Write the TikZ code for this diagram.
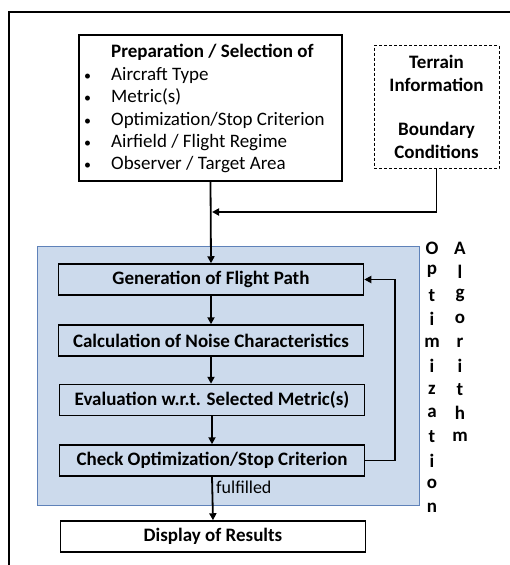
\documentclass[tikz,border=0pt]{standalone}
\usepackage{fontspec}
\setmainfont{Carlito}
\usetikzlibrary{arrows.meta}
\definecolor{bluefill}{RGB}{204,218,236}
\definecolor{blueedge}{RGB}{95,130,185}
\begin{document}
\begin{tikzpicture}[x=1pt,y=-1pt,
  box/.style={draw, line width=1.5pt, minimum width=305pt, minimum height=31pt, inner sep=0pt,
    font=\fontsize{19}{22}\selectfont\bfseries},
  flow/.style={line width=1.8pt, -{Triangle[length=7pt,width=7pt]}},
  letter/.style={inner sep=0pt, font=\fontsize{19}{22}\selectfont\bfseries, anchor=center}]
\useasboundingbox (0,0) rectangle (509,565);
% outer frame
\draw[line width=2pt] (9,566) -- (9,12) -- (510,12);
% blue region
\node[draw=blueedge, fill=bluefill, line width=1pt, minimum width=382pt, minimum height=259pt, inner sep=0pt] (region) at (228,375.5) {};
% prep box
\node[draw, line width=1.5pt, minimum width=263pt, minimum height=146pt, inner sep=0pt] (prep) at (210.5,108) {};
\node[anchor=north west, inner sep=0pt, font=\fontsize{19}{22.4}\selectfont, align=left] (preptxt) at (84,42)
 {\begin{tabular}{@{}p{27pt}@{}l@{}}
 & \textbf{Preparation / Selection of}\\
 {\fontsize{14}{22.4}\selectfont\textbullet} & Aircraft Type\\
 {\fontsize{14}{22.4}\selectfont\textbullet} & Metric(s)\\
 {\fontsize{14}{22.4}\selectfont\textbullet} & Optimization/Stop Criterion\\
 {\fontsize{14}{22.4}\selectfont\textbullet} & Airfield / Flight Regime\\
 {\fontsize{14}{22.4}\selectfont\textbullet} & Observer / Target Area
 \end{tabular}};
% terrain box
\node[draw, dash pattern=on 3pt off 2pt, line width=0.8pt, minimum width=125pt, minimum height=123pt, inner sep=0pt,
  font=\fontsize{19}{22.4}\selectfont\bfseries, align=center] (terrain) at (436.5,107)
 {Terrain\\Information\\[22.4pt]Boundary\\Conditions};
% process boxes
\node[box] (gen) at (211,279.5) {Generation of Flight Path};
\node[box] (calc) at (211,340.5) {Calculation of Noise Characteristics};
\node[box] (eval) at (212,400) {Evaluation w.r.t. Selected Metric(s)};
\node[box] (check) at (212,460.5) {Check Optimization/Stop Criterion};
\node[box, fill=white] (disp) at (213,536.5) {Display of Results};
% connectors
\coordinate (join) at (211,212);
\coordinate (loop) at (395,460.5);
\draw[flow] (prep.south) -- (gen.north);
\draw[flow] (terrain.south) |- ([xshift=1pt]join);
\draw[flow] (gen.south) -- (calc.north);
\draw[flow] (calc.south) -- (calc.south |- eval.north);
\draw[flow] (eval.south) -- (check.north);
\draw[flow] (check.south) -- (disp.north);
\draw[flow] (check.east) -- (loop) |- (gen.east);
\node[anchor=west, inner sep=0pt, font=\fontsize{18}{22}\selectfont] (ful) at (216,487) {fulfilled};
% vertical labels
\foreach \c [count=\i] in {O,p,t,i,m,i,z,a,t,i,o,n}
  \node[letter] (opt\i) at (432,248+23.6*\i-23.6) {\c};
\foreach \c [count=\i] in {A,l,g,o,r,i,t,h,m}
  \node[letter] (alg\i) at (460,248+23.6*\i-23.6) {\c};
\end{tikzpicture}
\end{document}
